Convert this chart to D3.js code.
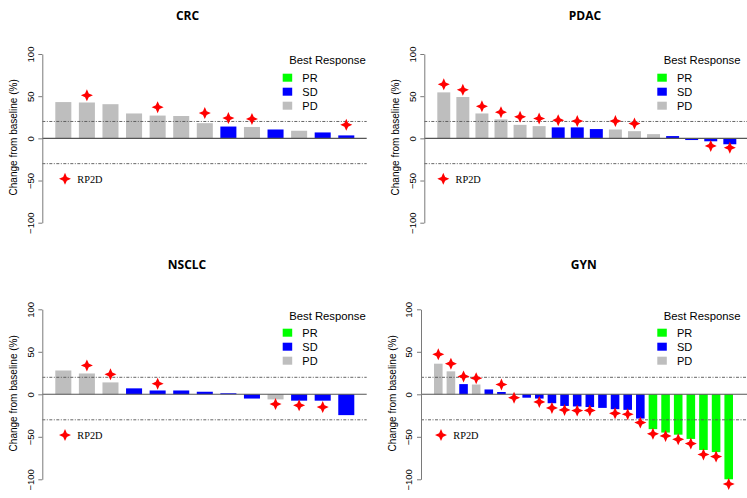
<!DOCTYPE html>
<html>
<head>
<meta charset="utf-8">
<script src="https://cdn.jsdelivr.net/npm/d3@7"></script>
<style>
  html, body { margin: 0; padding: 0; background: #fff; }
  svg { display: block; }
</style>
</head>
<body>
<svg id="chart" width="747" height="498"></svg>
<script>
// ---------------- DATA ----------------
const panelNames = ["CRC", "PDAC", "NSCLC", "GYN"];
const responseCategories = ["PR", "SD", "PD"];
const yTickValues = [-100, -50, 0, 50, 100];
const thresholdValues = [20, -30];

const crcValues   = [43, 42.5, 40.5, 29.5, 27, 26.5, 18, 14, 13.5, 10.5, 9, 7, 3.5];
const crcResponse = ["PD","PD","PD","PD","PD","PD","PD","SD","PD","SD","PD","SD","SD"];
const crcRp2d     = [null, 51, null, null, 37, null, 30, 24, 23, null, null, null, 16];

const pdacValues   = [54.5, 49, 29.5, 22.5, 16, 14.5, 13, 13, 11, 10.5, 8.5, 5, 2.7, -2, -3.5, -7];
const pdacResponse = ["PD","PD","PD","PD","PD","PD","SD","SD","SD","PD","PD","PD","SD","SD","SD","SD"];
const pdacRp2d     = [64, 57.5, 38, 31, 25.5, 23.5, 21.5, 20.5, null, 20.5, 17.5, null, null, null, -9, -11];

const nsclcValues   = [28, 24.5, 14, 7, 4.5, 4.5, 3, 1.2, -5, -6, -7.5, -7.5, -24.5];
const nsclcResponse = ["PD","PD","PD","SD","SD","SD","SD","SD","SD","PD","SD","SD","SD"];
const nsclcRp2d     = [null, 34, 23.5, null, 12.5, null, null, null, null, -11.5, -13, -15, null];

const gynValues   = [36, 27, 12, 11.5, 5.7, 2.7, 0, -4, -5, -10.5, -13.7, -14.3, -15, -16, -17.5, -18.3, -28.5,
                     -41, -45, -47.5, -52.5, -65.5, -68, -100];
const gynResponse = ["PD","PD","SD","PD","SD","SD","SD","SD","SD","SD","SD","SD","SD","SD","SD","SD","SD",
                     "PR","PR","PR","PR","PR","PR","PR"];
const gynRp2d     = [47, 36, 21, 19, null, 11.5, -4, null, -9, -16, -18.4, -19.2, -19, null, -22.4, -23.5, -33.3,
                     -46.5, -49, -53, -58, -70.8, -73.3, -105.5];

const yLabel = "Change from baseline (%)";
const legendTitle = "Best Response";
const rp2dLabel = "RP2D";

// ---------------- STYLE / LAYOUT ----------------
const colors = { PR: "#00ff00", SD: "#0000ff", PD: "#bebebe" };
const datasets = {
  CRC:   { values: crcValues,   response: crcResponse,   rp2d: crcRp2d },
  PDAC:  { values: pdacValues,  response: pdacResponse,  rp2d: pdacRp2d },
  NSCLC: { values: nsclcValues, response: nsclcResponse, rp2d: nsclcRp2d },
  GYN:   { values: gynValues,   response: gynResponse,   rp2d: gynRp2d }
};
const layout = {
  CRC:   { axisX: 42.3,  right: 366.7, yTop: 54,    yBot: 222.7, titleX: 187.5, titleY: 19.5,  legX: 282.7, legTitleY: 64,    legY0: 77.7,  starX: 65 },
  PDAC:  { axisX: 424.3, right: 749,   yTop: 54,    yBot: 222.7, titleX: 585,   titleY: 19.5,  legX: 657.3, legTitleY: 64,    legY0: 77.7,  starX: 443.3 },
  NSCLC: { axisX: 42.3,  right: 366.7, yTop: 309.3, yBot: 479.3, titleX: 187,   titleY: 269,   legX: 282.7, legTitleY: 319.7, legY0: 332.7, starX: 65 },
  GYN:   { axisX: 421,   right: 749,   yTop: 309.3, yBot: 479.3, titleX: 583.7, titleY: 268.5, legX: 657.3, legTitleY: 319.7, legY0: 332.7, starX: 441 }
};

const svg = d3.select("#chart");

function starPath(r, ri) {
  const pts = [];
  for (let i = 0; i < 8; i++) {
    const a = i * Math.PI / 4;
    const rad = i % 2 === 0 ? r : ri;
    pts.push([rad * Math.sin(a), -rad * Math.cos(a)]);
  }
  return "M" + pts.map(p => p[0].toFixed(2) + "," + p[1].toFixed(2)).join("L") + "Z";
}
const STAR = starPath(6, 2.6);

panelNames.forEach(name => {
  const d = datasets[name];
  const L = layout[name];
  const g = svg.append("g");

  const y = d3.scaleLinear().domain([-100, 100]).range([L.yBot, L.yTop]);
  const x = d3.scaleBand()
    .domain(d3.range(d.values.length))
    .range([L.axisX + 13, L.axisX + 312])
    .paddingInner(0.32)
    .paddingOuter(0);

  // title
  g.append("text")
    .attr("x", L.titleX).attr("y", L.titleY)
    .attr("text-anchor", "middle")
    .style("font-family", "'Open Sans', 'DejaVu Sans', sans-serif")
    .style("font-weight", "bold").style("font-size", "12px")
    .text(name);

  // bars
  g.selectAll("rect.bar").data(d.values).enter().append("rect")
    .attr("class", "bar")
    .attr("x", (v, i) => x(i))
    .attr("width", x.bandwidth())
    .attr("y", v => y(Math.max(0, v)))
    .attr("height", v => Math.abs(y(v) - y(0)))
    .attr("fill", (v, i) => colors[d.response[i]]);

  // zero line
  g.append("line")
    .attr("x1", L.axisX).attr("x2", L.right)
    .attr("y1", y(0)).attr("y2", y(0))
    .attr("stroke", "#555").attr("stroke-width", 1.1);

  // threshold lines
  thresholdValues.forEach(t => {
    g.append("line")
      .attr("x1", L.axisX).attr("x2", L.right)
      .attr("y1", y(t)).attr("y2", y(t))
      .attr("stroke", "#555").attr("stroke-width", 0.9)
      .attr("stroke-dasharray", "3,1.5,1,1.5");
  });

  // RP2D markers
  const rp = d.rp2d.map((v, i) => ({ v, i })).filter(o => o.v !== null);
  g.selectAll("path.rp").data(rp).enter().append("path")
    .attr("class", "rp")
    .attr("d", STAR)
    .attr("transform", o => `translate(${x(o.i) + x.bandwidth() / 2},${y(o.v)})`)
    .attr("fill", "#ff0000");

  // y axis
  const ax = g.append("g")
    .attr("transform", `translate(${L.axisX},0)`)
    .call(d3.axisLeft(y).tickValues(yTickValues).tickSize(4).tickSizeOuter(0).tickFormat(d3.format("d")));
  ax.select(".domain").attr("stroke", "#7a7a7a");
  ax.selectAll(".tick line").attr("stroke", "#7a7a7a");
  ax.selectAll(".tick text")
    .attr("x", null).attr("dy", "0.35em")
    .attr("transform", "translate(-12,0) rotate(-90)")
    .attr("text-anchor", "middle")
    .attr("fill", "#000")
    .style("font-family", "'Liberation Sans', Arial, sans-serif")
    .style("font-size", "9.5px");

  // y label
  g.append("text")
    .attr("transform", `translate(${L.axisX - 29},${(L.yTop + L.yBot) / 2 - 1}) rotate(-90)`)
    .attr("dy", "0.35em")
    .attr("text-anchor", "middle")
    .style("font-family", "'Liberation Sans', Arial, sans-serif")
    .style("font-size", "10px")
    .text(yLabel);

  // legend
  g.append("text")
    .attr("x", L.legX + 6.5).attr("y", L.legTitleY)
    .style("font-family", "'Liberation Sans', Arial, sans-serif")
    .style("font-size", "11.3px")
    .text(legendTitle);
  responseCategories.forEach((c, k) => {
    const cy = L.legY0 + k * 14;
    g.append("rect")
      .attr("x", L.legX).attr("y", cy - 4)
      .attr("width", 9.5).attr("height", 8)
      .attr("fill", colors[c]);
    g.append("text")
      .attr("x", L.legX + 19.6).attr("y", cy + 4)
      .style("font-family", "'Liberation Sans', Arial, sans-serif")
      .style("font-size", "11px")
      .text(c);
  });

  // RP2D legend
  g.append("path")
    .attr("d", STAR)
    .attr("transform", `translate(${L.starX},${y(-48)})`)
    .attr("fill", "#ff0000");
  g.append("text")
    .attr("x", L.starX + 12.3).attr("y", y(-48) + 3.7)
    .style("font-family", "'Liberation Serif', 'Times New Roman', serif")
    .style("font-size", "10.3px")
    .text(rp2dLabel);
});
</script>
</body>
</html>
